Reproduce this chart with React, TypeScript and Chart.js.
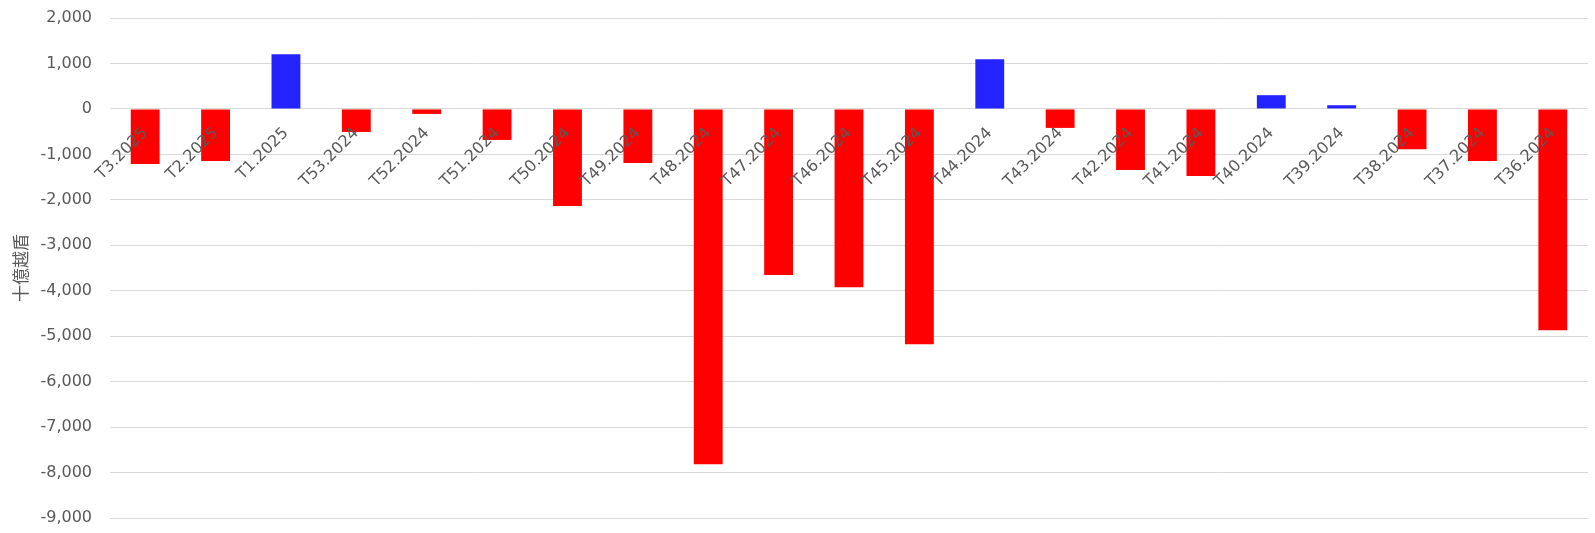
import React, { useEffect, useRef } from "react";
import { Chart, registerables } from "chart.js";

Chart.register(...registerables);

const categories = [
  "T3.2025", "T2.2025", "T1.2025", "T53.2024", "T52.2024", "T51.2024", "T50.2024",
  "T49.2024", "T48.2024", "T47.2024", "T46.2024", "T45.2024", "T44.2024", "T43.2024",
  "T42.2024", "T41.2024", "T40.2024", "T39.2024", "T38.2024", "T37.2024", "T36.2024",
];

const netValues = [
  -1210, -1145, 1205, -507, -110, -683, -2137,
  -1189, -7819, -3656, -3921, -5176, 1095, -418,
  -1344, -1476, 302, 81, -888, -1145, -4868,
];

const yTitle = "十億越盾";
const yMin = -9000;
const yMax = 2000;
const yStep = 1000;

const POS_COLOR = "#2323FF";
const NEG_COLOR = "#FF0000";
const TEXT_COLOR = "#595959";
const GRID_COLOR = "#D9D9D9";
const FONT = "'DejaVu Sans', Verdana, sans-serif";

export default function App() {
  const canvasRef = useRef<HTMLCanvasElement | null>(null);

  useEffect(() => {
    if (!canvasRef.current) return;
    const chart = new Chart(canvasRef.current, {
      type: "bar",
      data: {
        labels: categories,
        datasets: [
          {
            data: netValues,
            backgroundColor: netValues.map((v) => (v >= 0 ? POS_COLOR : NEG_COLOR)),
            borderWidth: 0,
            barPercentage: 0.82,
            categoryPercentage: 0.5,
          },
        ],
      },
      options: {
        animation: false,
        responsive: true,
        maintainAspectRatio: false,
        layout: { padding: { top: 18, bottom: 15, right: 7, left: 0 } },
        plugins: {
          legend: { display: false },
          tooltip: { enabled: false },
        },
        scales: {
          x: {
            position: { y: 0 } as any,
            grid: { display: false, drawTicks: false },
            border: { display: false },
            ticks: {
              z: 1,
              color: TEXT_COLOR,
              font: { family: FONT, size: 16 },
              minRotation: 45,
              maxRotation: 45,
              autoSkip: false,
              padding: 15,
            },
          },
          y: {
            min: yMin,
            max: yMax,
            afterFit: (scale: any) => {
              scale.width = 110;
            },
            grid: {
              color: GRID_COLOR,
              lineWidth: 1,
              drawTicks: true,
              tickLength: 15,
              tickColor: "rgba(0,0,0,0)",
            },
            border: { display: false },
            ticks: {
              stepSize: yStep,
              color: TEXT_COLOR,
              font: { family: FONT, size: 16 },
              padding: 3,
              callback: (v: any) => Number(v).toLocaleString("en-US"),
            },
            title: {
              display: true,
              text: yTitle,
              color: TEXT_COLOR,
              font: { family: "'Noto Sans CJK SC', sans-serif", size: 17 },
              padding: { top: 10, bottom: 0 },
            },
          },
        },
      },
    });
    return () => chart.destroy();
  }, []);

  return (
    <div style={{ position: "fixed", left: 0, top: 0, width: 1595, height: 533, background: "#fff" }}>
      <canvas ref={canvasRef} />
    </div>
  );
}
